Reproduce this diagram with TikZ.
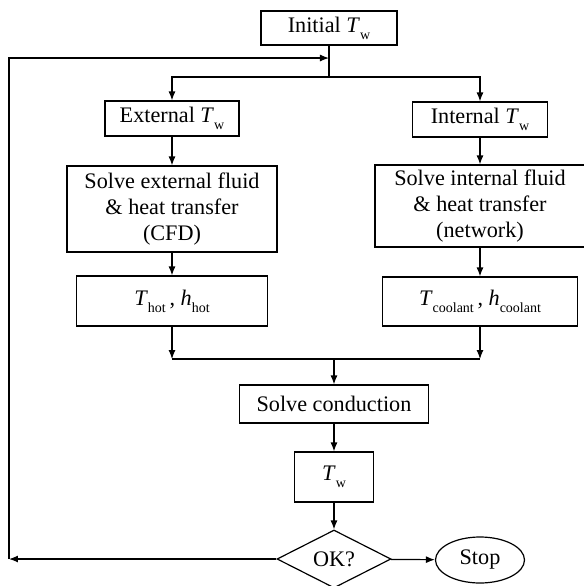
\documentclass[tikz,border=0pt]{standalone}
\usepackage{fontspec}
\setmainfont{Liberation Serif}
\usetikzlibrary{arrows.meta,shapes.geometric}
\newcommand{\vsub}[2]{\textit{#1}\raisebox{-0.7ex}{\scriptsize #2}}

\begin{document}
\begin{tikzpicture}[x=0.5pt, y=-0.5pt,
    every node/.style={font=\fontsize{11.1}{13}\selectfont},
    box/.style={draw, line width=0.6pt, align=center, inner sep=0pt},
    flow/.style={-{Latex[length=4.5pt,width=3.5pt]}, line width=0.6pt},
    plain/.style={line width=0.6pt}]
  \useasboundingbox (0,0) rectangle (584,586);

  % Define coordinates
  \coordinate (J1) at (329,58);  % feedback entry
  \coordinate (J2) at (329,77);  % split
  \coordinate (ML) at (172,359); % merge left
  \coordinate (MR) at (480,359); % merge right
  \coordinate (MC) at (334,359); % merge centre
  \coordinate (FB) at (9,559);   % feedback bottom
  \coordinate (FT) at (9,58);    % feedback top

  % Boxes
  \node[box, minimum width=68pt, minimum height=17pt] (init) at (329,28) {Initial \vsub{T}{w}};
  \node[box, minimum width=67pt, minimum height=17.5pt] (ext) at (172,118.5) {External \vsub{T}{w}};
  \node[box, minimum width=67.5pt, minimum height=17.5pt] (int) at (480,119.5) {Internal \vsub{T}{w}};
  \node[box, minimum width=105pt, minimum height=43pt] (solext) at (172,209) {Solve external fluid\\\& heat transfer\\(CFD)};
  \node[box, minimum width=105pt, minimum height=41pt] (solint) at (480,206) {Solve internal fluid\\\& heat transfer\\(network)};
  \node[box, minimum width=95.5pt, minimum height=25pt] (hot) at (172,301) {\vsub{T}{hot}\,, \vsub{h}{hot}};
  \node[box, minimum width=97.5pt, minimum height=24.5pt] (cool) at (480,301.5) {\vsub{T}{coolant}\,, \vsub{h}{coolant}};
  \node[box, minimum width=94.5pt, minimum height=19pt] (cond) at (334,404) {Solve conduction};
  \node[box, minimum width=39.5pt, minimum height=25pt] (tw) at (334,477) {\vsub{T}{w}};
  \node[box, shape=diamond, aspect=2, minimum width=57pt, minimum height=29pt] (ok) at (334,559) {OK?};
  \node[box, shape=ellipse, minimum width=44.5pt, minimum height=23pt] (stop) at (480,560) {Stop};

  % Connectors
  \draw[plain] (init) -- (J2);
  \draw[flow] (J2) -| (ext);
  \draw[flow] (J2) -| (int);
  \draw[flow] (ext) -- (solext);
  \draw[flow] (int) -- (solint);
  \draw[flow] (solext) -- (hot);
  \draw[flow] (solint) -- (cool);
  \draw[flow] (hot) -- (ML);
  \draw[flow] (cool) -- (MR);
  \draw[plain] (ML) -- (MR);
  \draw[flow] (MC) -- (cond);
  \draw[flow] (cond) -- (tw);
  \draw[flow] (tw) -- (ok);
  \draw[flow] (ok) -- (stop);

  % Feedback loop
  \draw[flow] (ok) -- (FB);
  \draw[flow] (FB) -- (FT) -- (J1);
\end{tikzpicture}
\end{document}
